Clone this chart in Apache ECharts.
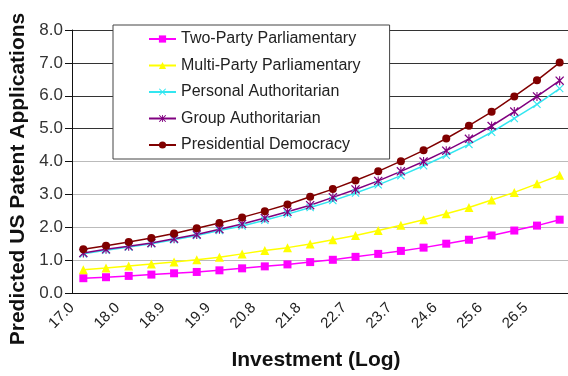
<!DOCTYPE html>
<html>
<head>
<meta charset="utf-8">
<script src="https://cdn.jsdelivr.net/npm/echarts@6/dist/echarts.min.js"></script>
<style>
  html, body { margin: 0; padding: 0; background: #fff; }
  #chart { width: 568px; height: 376px; }
</style>
</head>
<body>
<div id="chart"></div>
<script>
'use strict';

// investment (log), 22 steps; only every other one is labelled
const investment = ['17.0','17.5','18.0','18.4','18.9','19.4','19.9','20.3','20.8','21.3','21.8',
  '22.2','22.7','23.2','23.7','24.1','24.6','25.1','25.6','26.0','26.5','27.0'];

const twoParty = [0.45,0.48,0.52,0.56,0.60,0.64,0.69,0.75,0.81,0.87,0.94,
  1.01,1.10,1.19,1.28,1.38,1.50,1.62,1.75,1.90,2.05,2.23];
const multiParty = [0.71,0.76,0.82,0.88,0.94,1.01,1.09,1.19,1.29,1.38,1.49,
  1.62,1.75,1.90,2.06,2.23,2.41,2.60,2.83,3.06,3.32,3.58];
const personalAuth = [1.19,1.30,1.40,1.50,1.62,1.75,1.90,2.04,2.21,2.40,2.60,
  2.81,3.04,3.29,3.57,3.87,4.19,4.52,4.89,5.31,5.74,6.22];
const groupAuth = [1.22,1.33,1.42,1.52,1.65,1.78,1.94,2.10,2.28,2.47,2.67,
  2.91,3.15,3.41,3.70,4.00,4.33,4.69,5.08,5.52,5.98,6.46];
const presidential = [1.33,1.44,1.55,1.67,1.81,1.97,2.13,2.30,2.49,2.69,2.93,
  3.16,3.42,3.70,4.01,4.34,4.70,5.09,5.51,5.98,6.47,7.01];

const xMark = 'path://M0,1 L1,0 L5,4 L9,0 L10,1 L6,5 L10,9 L9,10 L5,6 L1,10 L0,9 L4,5 Z';
const starMark = 'path://M0,1 L1,0 L5,4 L9,0 L10,1 L6,5 L10,9 L9,10 L5,6 L1,10 L0,9 L4,5 Z M4.4,0 L5.6,0 L5.6,10 L4.4,10 Z';

const font = 'Liberation Sans, Arial, sans-serif';

function line(name, data, color, symbol, size) {
  return {
    name: name,
    type: 'line',
    data: data,
    symbol: symbol,
    symbolSize: size,
    itemStyle: { color: color },
    lineStyle: { color: color, width: 1.5 },
    emphasis: { disabled: true }
  };
}

var chart = echarts.init(document.getElementById('chart'));
const option = {
  animation: false,
  textStyle: { fontFamily: font },
  legend: {
    orient: 'vertical',
    left: 113,
    top: 25,
    padding: [6, 29, 6, 35],
    itemGap: 10.5,
    itemWidth: 27,
    itemHeight: 9,
    backgroundColor: '#fff',
    borderColor: '#444',
    borderWidth: 1,
    textStyle: { fontSize: 16, color: '#222', fontFamily: font }
  },
  grid: { left: 72, top: 30, width: 499, height: 263, outerBoundsMode: 'none' },
  xAxis: {
    type: 'category',
    data: investment,
    boundaryGap: true,
    name: 'Investment (Log)',
    nameLocation: 'middle',
    nameGap: 57,
    nameTextStyle: { fontSize: 21, fontWeight: 'bold', color: '#111', fontFamily: font, padding: [0, 11, 0, 0] },
    axisLine: { lineStyle: { color: '#111', width: 1 } },
    axisTick: { interval: 0, length: 5, lineStyle: { color: '#111' } },
    axisLabel: {
      interval: 1, rotate: 45, fontSize: 15, color: '#222', margin: 1,
      padding: [0, 16, 0, 0], fontFamily: font
    },
    splitLine: { show: false }
  },
  yAxis: {
    type: 'value',
    min: 0,
    max: 8,
    interval: 1,
    name: 'Predicted US Patent Applications',
    nameLocation: 'middle',
    nameGap: 42,
    nameTextStyle: { fontSize: 21, fontWeight: 'bold', color: '#111', fontFamily: font, padding: [0, 35, 0, 0] },
    axisLine: { show: true, onZero: false, lineStyle: { color: '#111', width: 1 } },
    axisTick: { show: true, length: 7, lineStyle: { color: '#111' } },
    axisLabel: {
      fontSize: 17, color: '#333', margin: 9, fontFamily: font,
      formatter: function (v) { return v.toFixed(1); }
    },
    splitLine: {
      lineStyle: {
        color: ['#bbb', '#bbb', '#bbb', '#bbb', '#bbb', '#333', '#333', '#333', '#333'],
        width: 1
      }
    }
  },
  series: [
    line('Two-Party Parliamentary', twoParty, '#ff00ff', 'rect', 8),
    line('Multi-Party Parliamentary', multiParty, '#ffff00', 'triangle', 9),
    line('Personal Authoritarian', personalAuth, '#33e6f0', xMark, 8),
    line('Group Authoritarian', groupAuth, '#800080', starMark, 9),
    line('Presidential Democracy', presidential, '#800000', 'circle', 8)
  ]
};
chart.setOption(option);
</script>
</body>
</html>
